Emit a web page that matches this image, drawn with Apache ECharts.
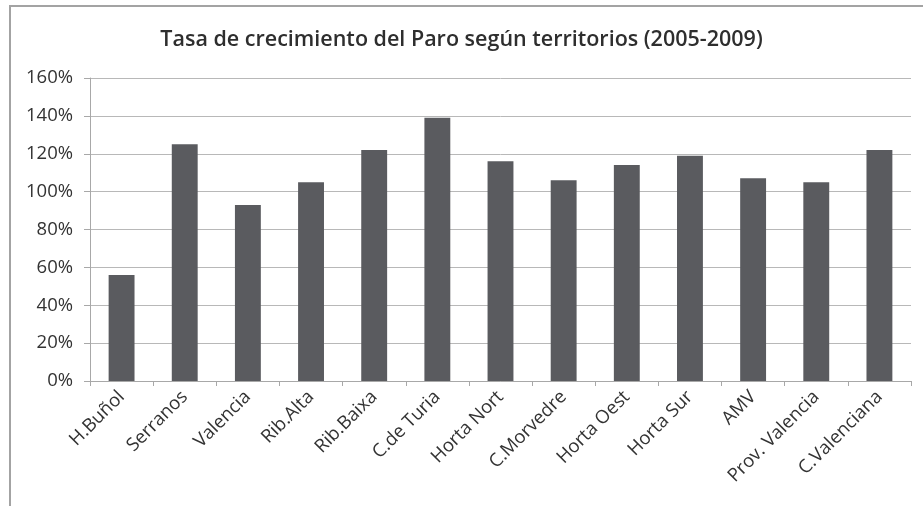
<!DOCTYPE html>
<html>
<head>
<meta charset="utf-8">
<script src="https://cdn.jsdelivr.net/npm/echarts@6/dist/echarts.min.js"></script>
<style>
  html, body { margin: 0; padding: 0; background: #fff; }
  #main { width: 923px; height: 506px; }
</style>
</head>
<body>
<div id="main"></div>
<script>
// datos
var territorios = ['H.Buñol', 'Serranos', 'Valencia', 'Rib.Alta', 'Rib.Baixa', 'C.de Turia', 'Horta Nort',
  'C.Morvedre', 'Horta Oest', 'Horta Sur', 'AMV', 'Prov. Valencia', 'C.Valenciana'];
var tasa = [0.56, 1.25, 0.93, 1.05, 1.22, 1.39, 1.16, 1.06, 1.14, 1.19, 1.07, 1.05, 1.22];
var titulo = 'Tasa de crecimiento del Paro según territorios (2005-2009)';

var chart = echarts.init(document.getElementById('main'), null, { renderer: 'canvas' });

var option = {
  backgroundColor: '#fff',
  animation: false,
  color: ['#5a5b5f'],
  title: {
    text: titulo,
    left: 'center',
    top: 24,
    textStyle: {
      fontFamily: 'Open Sans',
      fontSize: 21.5,
      fontWeight: 600,
      color: '#2e2e2e'
    }
  },
  graphic: [
    {
      type: 'rect',
      shape: { x: 10, y: 6, width: 940, height: 540 },
      style: { fill: null, stroke: '#a3a3a3', lineWidth: 2 },
      silent: true
    }
  ],
  grid: {
    left: 90,
    right: 12,
    top: 78,
    bottom: 125
  },
  xAxis: {
    type: 'category',
    data: territorios,
    axisLine: { lineStyle: { color: '#a8a8a8', width: 1 } },
    axisTick: { show: true, length: 5, lineStyle: { color: '#a8a8a8' } },
    axisLabel: {
      interval: 0,
      rotate: 45,
      margin: 13,
      fontFamily: 'Open Sans',
      fontSize: 18.5,
      color: '#333'
    }
  },
  yAxis: {
    type: 'value',
    min: 0,
    max: 1.6,
    interval: 0.2,
    axisLine: { show: true, lineStyle: { color: '#a8a8a8', width: 1 } },
    axisTick: { show: true, length: 6, lineStyle: { color: '#a8a8a8' } },
    splitLine: { lineStyle: { color: '#b8b8b8', width: 1 } },
    axisLabel: {
      margin: 17,
      fontFamily: 'Open Sans',
      fontSize: 18.5,
      color: '#333',
      formatter: function (v) { return Math.round(v * 100) + '%'; }
    }
  },
  series: [
    {
      name: 'Tasa',
      type: 'bar',
      data: tasa,
      barWidth: '41%'
    }
  ]
};

chart.setOption(option);
</script>
</body>
</html>
